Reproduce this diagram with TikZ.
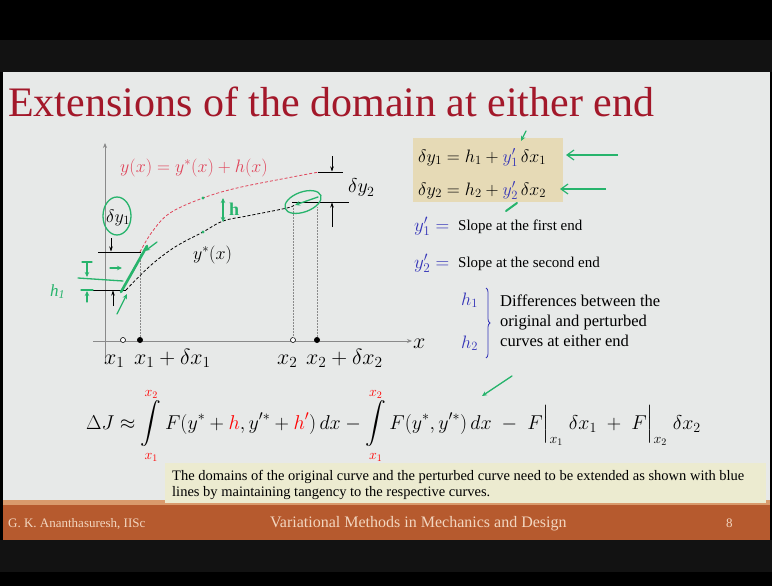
\RequirePackage{fix-cm}
\documentclass[tikz,border=0pt]{standalone}
\usepackage{exscale}
\usepackage{fontspec}
\setmainfont{Liberation Serif}
\usetikzlibrary{arrows.meta,decorations.pathreplacing}
\definecolor{slidebg}{HTML}{E7E9E8}
\definecolor{darkband}{HTML}{121212}
\definecolor{titlered}{HTML}{A3182A}
\definecolor{footbg}{HTML}{B65A2E}
\definecolor{footlight}{HTML}{D99A6C}
\definecolor{foottext}{HTML}{F2D6C0}
\definecolor{notebg}{HTML}{ECEBD0}
\definecolor{tanbg}{HTML}{E6DAB6}
\definecolor{mblue}{HTML}{3434B8}
\definecolor{grn}{HTML}{27B46C}
\definecolor{axgray}{HTML}{8A8A8A}
\definecolor{curvered}{HTML}{E0445A}
\newcommand{\myint}[2]{\mathop{\vphantom{\intop}\smash{\intop}}\limits_{\textcolor{red}{#1}}^{\textcolor{red}{#2}}}
\tikzset{
  axisline/.style={axgray, line width=0.8pt, -{Stealth[length=5pt,width=4pt]}},
  tickline/.style={black, line width=0.6pt},
  dimarrow/.style={black, line width=0.6pt, -{Stealth[length=5pt,width=3.5pt]}},
  guide/.style={axgray, line width=0.5pt, densely dotted},
  grnline/.style={grn, line width=1.3pt, line cap=round, line join=round},
  grnarrow/.style={grn, line width=1.3pt, line cap=round, -{Stealth[length=5pt,width=4.5pt]}},
  txt/.style={inner sep=0pt, anchor=base west},
}
\begin{document}
\begin{tikzpicture}[x=1pt,y=-1pt]
\useasboundingbox (0,0) rectangle (772,586);
% background bands
\fill[black] (0,0) rectangle (772,586);
\fill[darkband] (0,40) rectangle (772,72);
\fill[slidebg] (3,72) rectangle (770,503);
\fill[footlight] (3,500) rectangle (770,506);
\fill[footbg] (3,505) rectangle (770,540);
\fill[darkband] (0,540) rectangle (772,572);
% note box (behind the formula's lower limits)
\fill[notebg] (165,463) rectangle (766,503);
% title
\node[txt, text=titlered, font=\fontsize{42}{46}\selectfont] (title) at (8,117) {Extensions of the domain at either end};

% ---------- graph ----------
\coordinate (yaxb) at (105,363);
\coordinate (yaxt) at (105,143);
\coordinate (xaxl) at (93,341);
\coordinate (xaxr) at (412,341);
\draw[axisline] (yaxb) -- (yaxt);
\draw[axisline] (xaxl) -- (xaxr);
\node[txt, font=\fontsize{22}{24}\selectfont] (xlab) at (413,348) {$x$};

% points on x axis
\node[circle, draw=black, fill=white, inner sep=0pt, minimum size=5pt, line width=0.6pt] (p1) at (123,340) {};
\node[circle, fill=black, inner sep=0pt, minimum size=6pt] (p2) at (140,340) {};
\node[circle, draw=black, fill=white, inner sep=0pt, minimum size=5pt, line width=0.6pt] (p3) at (293,340) {};
\node[circle, fill=black, inner sep=0pt, minimum size=6pt] (p4) at (317,340) {};

% curve end points
\coordinate (b1) at (126,290);
\coordinate (b2) at (294,205);
\coordinate (r1) at (140,252);
\coordinate (r2) at (319,172);

% dotted guides
\draw[guide] (p2) -- (r1);
\draw[guide] (p3) -- (293,207);
\draw[guide] (p4) -- (317,207);

% curves
\draw[black, line width=0.8pt, densely dashed] plot[smooth, tension=0.6] coordinates {(126,290) (150,266) (175,247) (203,232) (223,221) (247,216) (287,208) (294,205)};
\draw[curvered, line width=0.8pt, densely dashed] plot[smooth, tension=0.6] coordinates {(140,252) (152,232) (170,213) (203,198) (237,188) (287,178) (319,172)};

% labels of curves
\node[txt, text=curvered, font=\fontsize{18}{20}\selectfont] (ylab) at (120,172) {$y(x) = y^{*}(x) + h(x)$};
\node[txt, font=\fontsize{18}{20}\selectfont] (ystar) at (193,259) {$y^{*}(x)$};

% x labels
\node[txt, font=\fontsize{22}{24}\selectfont] (lx1) at (104,364) {$x_1$};
\node[txt, font=\fontsize{22}{24}\selectfont] (lx1d) at (134,364) {$x_1 + \delta x_1$};
\node[txt, font=\fontsize{22}{24}\selectfont] (lx2) at (277,364) {$x_2$};
\node[txt, font=\fontsize{22}{24}\selectfont] (lx2d) at (306,364) {$x_2 + \delta x_2$};

% delta y1 ticks
\coordinate (t1a) at (98,252);
\coordinate (t1b) at (141,252);
\coordinate (t2a) at (84,290);
\coordinate (t2b) at (126,290);
\draw[tickline] (t1a) -- (t1b);
\draw[tickline] (t2a) -- (t2b);
\coordinate (a1s) at (111,238);
\coordinate (a1e) at (111,251.5);
\coordinate (a2s) at (113,306);
\coordinate (a2e) at (113,290.5);
\draw[dimarrow] (a1s) -- (a1e);
\draw[dimarrow] (a2s) -- (a2e);
\node[txt, font=\fontsize{18}{20}\selectfont] (dy1) at (106,222) {$\delta y_1$};

% delta y2 ticks
\coordinate (u1a) at (318,172);
\coordinate (u1b) at (343,172);
\coordinate (u2a) at (292,202);
\coordinate (u2b) at (349,202);
\draw[tickline] (u1a) -- (u1b);
\draw[tickline] (u2a) -- (u2b);
\coordinate (c1s) at (332,156);
\coordinate (c1e) at (332,171.5);
\coordinate (c2s) at (332,227);
\coordinate (c2e) at (332,202.5);
\draw[dimarrow] (c1s) -- (c1e);
\draw[dimarrow] (c2s) -- (c2e);
\node[txt, font=\fontsize{20}{22}\selectfont] (dy2) at (348,193) {$\delta y_2$};

% ---------- green handwriting ----------
\draw[grnline] (117,216) ellipse [x radius=14, y radius=19];
\draw[grn, line width=2.6pt, line cap=round] (121,292) -- (147,246);
\coordinate (g1s) at (157,242);
\coordinate (g1e) at (145,251);
\draw[grnarrow] (g1s) -- (g1e);
\draw[grnline] (78,278) -- (123,281);
\coordinate (g2s) at (110,268);
\coordinate (g2e) at (122,268);
\draw[grnarrow] (g2s) -- (g2e);
\draw[grnline] (82,262) -- (92,262);
\coordinate (g3s) at (87,262);
\coordinate (g3e) at (87,277);
\draw[grnarrow] (g3s) -- (g3e);
\draw[grnline] (81,290) -- (93,290);
\coordinate (g4s) at (87,302);
\coordinate (g4e) at (87,291);
\draw[grnarrow] (g4s) -- (g4e);
\node[txt, text=grn, font=\fontsize{17}{19}\selectfont\itshape] (h1g) at (50,296) {h\textsubscript{1}};
\coordinate (g5s) at (117,314);
\coordinate (g5e) at (127,294);
\draw[grnarrow] (g5s) -- (g5e);
\coordinate (hs) at (223,198);
\coordinate (he) at (223,222);
\draw[grn, line width=1.6pt, {Stealth[length=5pt,width=4.5pt]}-{Stealth[length=5pt,width=4.5pt]}] (hs) -- (he);
\node[txt, text=grn, font=\fontsize{18}{20}\selectfont\bfseries] (hg) at (229,215) {h};
\fill[grn] (203,198) circle (1.6);
\fill[grn] (203,232) circle (1.6);
\draw[grnline, rotate around={20:(303,202)}] (303,202) ellipse [x radius=19, y radius=10];
\coordinate (g6s) at (318,197);
\coordinate (g6e) at (295,205);
\draw[grnarrow] (g6s) -- (g6e);

% ---------- right side ----------
\fill[tanbg] (413,138) rectangle (563,202);
\node[txt, font=\fontsize{18}{20}\selectfont] (eq1) at (418,162) {$\delta y_1 = h_1 + {\color{mblue}y'_1}\,\delta x_1$};
\node[txt, font=\fontsize{18}{20}\selectfont] (eq2) at (418,195) {$\delta y_2 = h_2 + {\color{mblue}y'_2}\,\delta x_2$};
\coordinate (ga1s) at (618,155);
\coordinate (ga1e) at (566,155);
\draw[grn, line width=1.2pt, -{Straight Barb[length=7pt,width=10pt]}] (ga1s) -- (ga1e);
\coordinate (ga2s) at (606,189);
\coordinate (ga2e) at (560,189);
\draw[grn, line width=1.2pt, -{Straight Barb[length=7pt,width=10pt]}] (ga2s) -- (ga2e);
\coordinate (gm1s) at (526,131);
\coordinate (gm1e) at (521,141);
\draw[grnarrow] (gm1s) -- (gm1e);
\coordinate (gm2s) at (517,203);
\coordinate (gm2e) at (506,211);
\draw[grn, line width=2pt, line cap=round] (gm2s) -- (gm2e);

\node[txt, text=mblue, font=\fontsize{19}{21}\selectfont] (s1) at (414,231) {$y'_1 =$};
\node[txt, font=\fontsize{15}{17}\selectfont] (s1t) at (458,230) {Slope at the first end};
\node[txt, text=mblue, font=\fontsize{19}{21}\selectfont] (s2) at (414,268) {$y'_2 =$};
\node[txt, font=\fontsize{15}{17}\selectfont] (s2t) at (458,267) {Slope at the second end};

\node[txt, text=mblue, font=\fontsize{18}{20}\selectfont] (hh1) at (461,305) {$h_1$};
\node[txt, text=mblue, font=\fontsize{18}{20}\selectfont] (hh2) at (461,348) {$h_2$};
\coordinate (brt) at (486,288);
\coordinate (brb) at (486,358);
\draw[mblue, line width=0.8pt, decorate, decoration={brace, amplitude=4pt}] (brt) -- (brb);
\node[txt, font=\fontsize{16.5}{18}\selectfont] (diff1) at (500,306) {Differences between the};
\node[txt, font=\fontsize{16.5}{18}\selectfont] (diff2) at (500,326) {original and perturbed};
\node[txt, font=\fontsize{16.5}{18}\selectfont] (diff3) at (500,346) {curves at either end};

% ---------- main formula ----------
\node[txt, font=\fontsize{20}{22}\selectfont] (form) at (86,429) {$\displaystyle \Delta J \approx \myint{x_1}{x_2} F(y^{*} + {\color{red}h}, y'^{*} + {\color{red}h'})\,dx - \myint{x_1}{x_2} F(y^{*}, y'^{*})\,dx \;-\; F\Big|_{x_1}\;\delta x_1 \;+\; F\Big|_{x_2}\;\delta x_2$};
\coordinate (gfs) at (512,376);
\coordinate (gfe) at (482,396);
\draw[grnarrow] (gfs) -- (gfe);

% ---------- note text ----------
\node[txt, font=\fontsize{14.5}{16}\selectfont] (note1) at (172,480) {The domains of the original curve and the perturbed curve need to be extended as shown with blue};
\node[txt, font=\fontsize{14.5}{16}\selectfont] (note2) at (172,496) {lines by maintaining tangency to the respective curves.};

% ---------- footer ----------
\node[txt, text=foottext, font=\fontsize{13}{15}\selectfont] (f1) at (8,527) {G. K. Ananthasuresh, IISc};
\node[txt, text=foottext, font=\fontsize{16}{18}\selectfont] (f2) at (270,527) {Variational Methods in Mechanics and Design};
\node[txt, text=foottext, font=\fontsize{13}{15}\selectfont] (f3) at (726,527) {8};
\end{tikzpicture}
\end{document}
